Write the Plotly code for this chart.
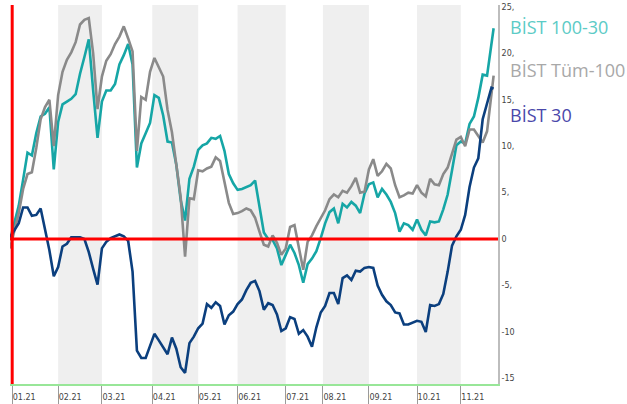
import plotly.graph_objects as go

# trading-day index of each sample (every 2nd trading day of 2021, plus the last one)
days = list(range(0, 221, 2)) + [221]

bist_100_30 = [
    -0.1, 1.8, 3.6, 6.4, 9.3, 9.0, 11.4, 13.2, 13.5, 14.2,
    7.5, 12.6, 14.5, 14.8, 15.1, 15.6, 17.8, 19.6, 21.5, 16.0,
    10.9, 14.8, 16.0, 16.0, 16.7, 18.8, 19.8, 21.0, 18.8, 7.7,
    10.3, 11.4, 12.5, 15.5, 15.2, 13.3, 10.5, 10.4, 8.0, 4.2,
    2.0, 6.5, 7.8, 9.6, 10.1, 10.3, 10.9, 10.8, 11.1, 9.5,
    7.0, 6.0, 5.3, 5.4, 5.6, 5.8, 6.3, 3.7, 0.7, 0.0,
    -0.1, -1.0, -2.8, -1.7, -0.6, -1.5, -2.8, -4.7, -2.7, -2.1,
    -1.3, 0.1, 1.7, 2.9, 3.3, 1.7, 3.8, 3.4, 4.0, 3.6,
    2.8, 4.9, 5.9, 6.1, 4.5, 5.4, 4.8, 4.0, 2.8, 0.8,
    1.7, 1.5, 1.0, 2.1, 1.0, 0.4, 1.9, 1.8, 1.9, 3.2,
    4.8, 7.4, 10.1, 10.5, 10.3, 12.4, 13.2, 15.2, 17.7, 17.6,
    20.8, 22.7,
]

bist_tum_100 = [
    -1.0, 1.0, 2.8, 5.4, 7.0, 7.2, 9.8, 12.9, 14.2, 15.0,
    10.0, 15.5, 18.0, 19.3, 20.1, 21.2, 23.1, 23.6, 23.8, 20.0,
    14.0, 17.5, 19.2, 19.9, 21.0, 21.8, 22.9, 21.6, 20.2, 9.5,
    15.3, 15.0, 18.0, 19.5, 18.5, 17.5, 13.9, 11.5, 8.0, 4.5,
    -1.9, 4.4, 4.3, 7.4, 7.3, 7.6, 7.8, 8.8, 8.4, 6.0,
    3.9, 2.7, 2.8, 3.0, 3.3, 3.1, 2.3, 0.8, -0.6, -0.8,
    0.4, -0.4, -1.7, -1.0, 1.3, 1.5, -0.8, -3.3, -0.3, 0.4,
    1.4, 2.3, 3.1, 4.3, 4.8, 4.5, 5.2, 5.0, 5.7, 6.6,
    5.0, 5.1, 7.5, 8.6, 6.8, 7.3, 8.1, 7.6, 5.8, 4.5,
    4.7, 5.0, 4.9, 5.8, 5.0, 4.6, 6.5, 5.9, 5.8, 7.0,
    7.7, 9.2, 10.7, 11.0, 10.0, 11.8, 11.8, 11.1, 10.4, 11.6,
    16.0, 17.6,
]

bist_30 = [
    0.2, 1.0, 1.7, 3.4, 3.4, 2.5, 2.6, 3.3, 1.0, -1.2,
    -4.0, -3.0, -0.8, -0.5, 0.2, 0.2, 0.2, 0.0, -1.4, -3.2,
    -4.9, -1.0, -0.3, 0.1, 0.3, 0.5, 0.3, -0.2, -3.5, -12.0,
    -12.8, -12.8, -11.5, -10.2, -10.9, -11.6, -12.4, -10.6, -11.8, -13.8,
    -14.4, -11.2, -10.5, -9.6, -9.1, -7.0, -7.4, -6.8, -7.2, -9.2,
    -8.2, -7.8, -7.0, -6.5, -5.5, -4.7, -4.5, -5.6, -7.6, -6.9,
    -7.1, -8.1, -9.9, -9.6, -8.4, -8.6, -10.2, -9.8, -10.5, -11.6,
    -9.5, -7.9, -7.2, -5.8, -5.8, -7.0, -4.2, -3.9, -4.4, -3.4,
    -3.5, -3.1, -3.0, -3.1, -5.0, -6.0, -6.7, -7.1, -7.9, -8.0,
    -9.2, -9.2, -9.0, -8.8, -8.9, -10.0, -7.1, -7.2, -7.0, -5.9,
    -3.5, -0.7, 0.3, 1.0, 2.6, 5.6, 7.7, 8.7, 12.9, 14.6,
    16.3, 16.2,
]

month_ticks = [1, 22, 42, 65, 86, 104, 126, 143, 164, 186, 206]
month_labels = ["01.21", "02.21", "03.21", "04.21", "05.21", "06.21",
                "07.21", "08.21", "09.21", "10.21", "11.21"]

y_ticks = [25, 20, 15, 10, 5, 0, -5, -10, -15]
y_labels = ["25,", "20,", "15,", "10,", "5,", "0", "-5,", "-10", "-15"]

series_names = ["BİST 100-30", "BİST Tüm-100", "BİST 30"]
line_colors = ["#16a6a6", "#8a8a8a", "#0b3f7e"]
legend_colors = ["#5ccbc6", "#a8a8a8", "#4a48aa"]

fig = go.Figure()
for name, vals, col in zip(series_names, [bist_100_30, bist_tum_100, bist_30], line_colors):
    fig.add_trace(go.Scatter(x=days, y=vals, mode="lines", name=name,
                             line=dict(color=col, width=2.6), showlegend=False))

# shaded alternate months
for x0, x1 in zip(month_ticks[1::2], month_ticks[2::2]):
    fig.add_shape(type="rect", xref="x", yref="paper", x0=x0, x1=x1, y0=0, y1=1,
                  fillcolor="#efefef", line_width=0, layer="below")

# red reference lines
fig.add_shape(type="line", xref="paper", yref="y", x0=0, x1=1, y0=0, y1=0,
              line=dict(color="#ff0000", width=3), layer="above")
fig.add_shape(type="line", xref="x", yref="paper", x0=month_ticks[0], x1=month_ticks[0],
              y0=0, y1=1, line=dict(color="#ff0000", width=3), layer="above")

# legend as coloured text
legend_y = [0.942, 0.829, 0.71]
for name, col, yy in zip(series_names, legend_colors, legend_y):
    fig.add_annotation(text=name, xref="paper", yref="paper", x=1.02, y=yy,
                       xanchor="left", yanchor="middle", showarrow=False,
                       font=dict(family="Open Sans", size=18, color=col))

fig.update_layout(
    width=627, height=404,
    margin=dict(l=10, r=129, t=5, b=20),
    paper_bgcolor="white", plot_bgcolor="white",
    xaxis=dict(range=[0, 223], tickmode="array", tickvals=month_ticks, ticktext=month_labels,
               automargin=False,
               showgrid=False, zeroline=False, showline=True, linecolor="#98e698", linewidth=2,
               ticks="outside", ticklen=20, tickcolor="#9a9a9a", tickwidth=1,
               ticklabelstandoff=-16, ticklabelshift=12,
               tickfont=dict(family="DejaVu Sans", size=8, color="#444")),
    yaxis=dict(range=[-15.6, 25.2], side="right", tickmode="array", tickvals=y_ticks,
               automargin=False,
               ticktext=y_labels, showgrid=False, zeroline=False, showline=True,
               linecolor="#bdbdbd", linewidth=2, ticks="",
               tickfont=dict(family="DejaVu Sans", size=8, color="#444")),
)

fig.write_html("out.html", config={"displayModeBar": False},
               post_script="document.body.style.margin='0px';document.body.style.overflow='hidden';")
